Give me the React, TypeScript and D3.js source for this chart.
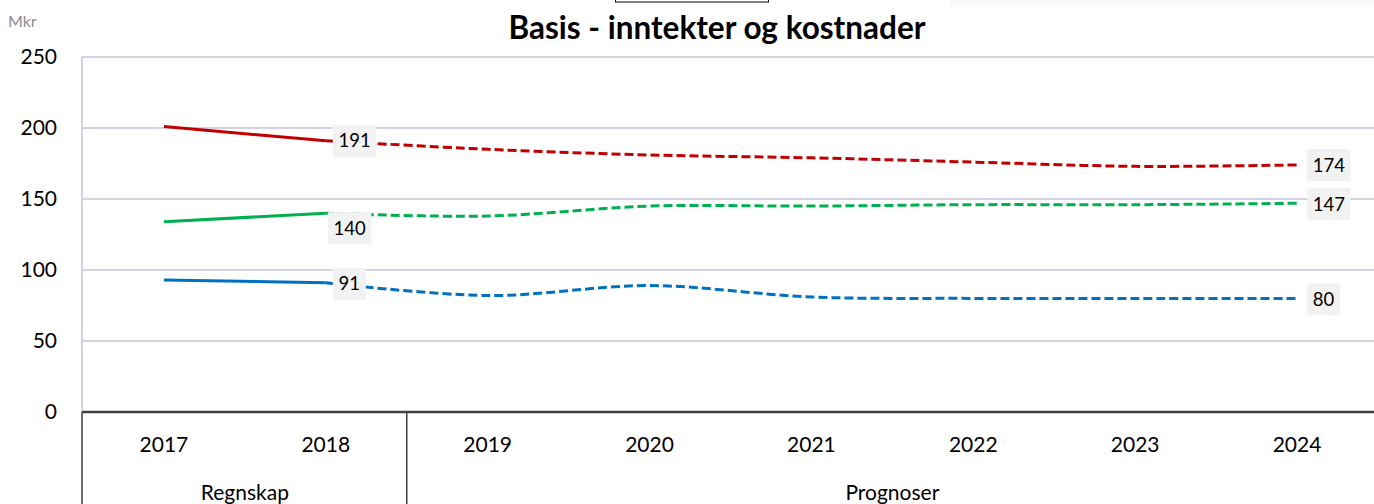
import React from "react";
import * as d3 from "d3";

const years = ["2017", "2018", "2019", "2020", "2021", "2022", "2023", "2024"];
const groups = [
  { name: "Regnskap", from: 0, to: 1 },
  { name: "Prognoser", from: 2, to: 7 },
];
const kostnader = [201, 191, 185, 181, 179, 176, 173, 174];
const inntekter = [134, 140, 138, 145, 145, 146, 146, 147];
const basis = [93, 91, 82, 89, 81, 80, 80, 80];
const yTicks = [0, 50, 100, 150, 200, 250];
const actualCount = 2; // 2017-2018 are accounts

const series = [
  { name: "kostnader", values: kostnader, color: "#c00000" },
  { name: "inntekter", values: inntekter, color: "#00b050" },
  { name: "basis", values: basis, color: "#0070c0" },
];

// data labels: series index, point index, box-left offset, vertical offset
const labels = [
  { s: 0, i: 1, dx: 7, dy: 0 },
  { s: 1, i: 1, dx: 2, dy: 15 },
  { s: 2, i: 1, dx: 7, dy: 1 },
  { s: 0, i: 7, dx: 10, dy: 0 },
  { s: 1, i: 7, dx: 10, dy: 1 },
  { s: 2, i: 7, dx: 10, dy: 1 },
];

const W = 1374;
const H = 504;
const FONT = "Lato, 'Open Sans', sans-serif";

export default function App() {
  const left = 83;
  const right = 1378;
  const top = 57;
  const bottom = 412;
  const x = d3.scaleBand<string>().domain(years).range([left, right]).padding(0);
  const y = d3.scaleLinear().domain([0, 250]).range([bottom, top]);
  const cx = (i: number) => (x(years[i]) as number) + x.bandwidth() / 2;

  const solid = d3
    .line<number>()
    .x((_, i) => cx(i))
    .y((d) => y(d));
  const dashed = d3
    .line<number>()
    .x((_, i) => cx(i + actualCount - 1))
    .y((d) => y(d))
    .curve(d3.curveCardinal.tension(0));

  return (
    <svg
      width={W}
      height={H}
      style={{ position: "absolute", left: 0, top: 0, background: "#fff" }}
      fontFamily={FONT}
    >
      <rect x={0} y={0} width={W} height={H} fill="#fff" />
      {/* artifacts at top */}
      <rect x={615.5} y={-20} width={153} height={22} fill="#fff" stroke="#000" strokeWidth={1} />
      <rect x={950} y={0} width={424} height={5} fill="#f9f9f9" />

      <text x={8} y={27} fontSize={16} fill="#8c8c8c">Mkr</text>
      <text x={717} y={39} textAnchor="middle" fontSize={31.5} fontWeight="bold" fill="#000">
        Basis - inntekter og kostnader
      </text>

      {/* gridlines */}
      {yTicks.map((t) =>
        t === 0 ? null : (
          <line key={t} x1={left - 1} x2={W} y1={y(t)} y2={y(t)} stroke="#c4c4dc" strokeWidth={1.5} />
        )
      )}
      <line x1={left - 1} x2={left - 1} y1={top} y2={bottom} stroke="#c4c4dc" strokeWidth={1.5} />
      {yTicks.map((t) => (
        <text key={t} x={57} y={y(t)} dy="0.35em" textAnchor="end" fontSize={21} fill="#000">
          {t}
        </text>
      ))}

      {/* category axis */}
      <line x1={left - 1} x2={W} y1={bottom} y2={bottom} stroke="#404040" strokeWidth={2.5} />
      {[0, 2, 8].map((i) => {
        const xx = i < years.length ? (x(years[i]) as number) - (i === 0 ? 1 : 0) : right;
        return <line key={i} x1={xx} x2={xx} y1={bottom} y2={H} stroke="#404040" strokeWidth={1.5} />;
      })}
      {years.map((yr, i) => (
        <text key={yr} x={cx(i)} y={452} textAnchor="middle" fontSize={21} fill="#000">
          {yr}
        </text>
      ))}
      {groups.map((g) => {
        const gx = ((x(years[g.from]) as number) + (x(years[g.to]) as number) + x.bandwidth()) / 2;
        return (
          <text key={g.name} x={gx} y={500} textAnchor="middle" fontSize={21} fill="#000">
            {g.name}
          </text>
        );
      })}

      {/* lines */}
      {series.map((s) => (
        <g key={s.name}>
          <path
            d={solid(s.values.slice(0, actualCount)) || ""}
            fill="none"
            stroke={s.color}
            strokeWidth={3}
          />
          <path
            d={dashed(s.values.slice(actualCount - 1)) || ""}
            fill="none"
            stroke={s.color}
            strokeWidth={3}
            strokeDasharray="9 4"
          />
        </g>
      ))}

      {/* data labels */}
      {labels.map((l, k) => {
        const v = series[l.s].values[l.i];
        const txt = String(v);
        const w = txt.length * 10.5 + 12;
        const bx = cx(l.i) + l.dx;
        const by = y(v) + l.dy;
        return (
          <g key={k}>
            <rect x={bx} y={by - 16} width={w} height={32} fill="#f2f2f2" />
            <text x={bx + w / 2} y={by} dy="0.36em" textAnchor="middle" fontSize={18.5} fill="#000">
              {txt}
            </text>
          </g>
        );
      })}
    </svg>
  );
}
